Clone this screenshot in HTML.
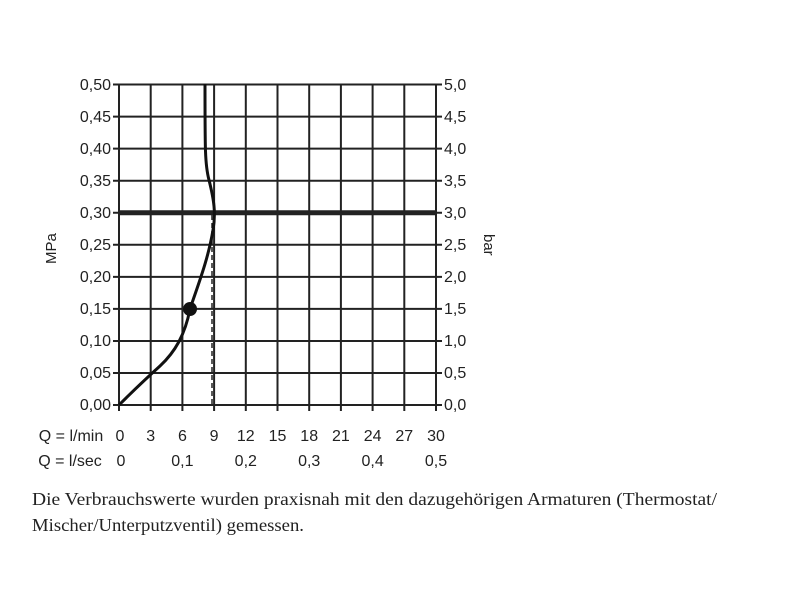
<!DOCTYPE html>
<html><head><style>
body{margin:0;background:#fff;}
svg text{font-family:"Liberation Sans","DejaVu Sans",sans-serif;fill:#222;}
</style></head><body>
<svg width="800" height="600" xmlns="http://www.w3.org/2000/svg">
<g stroke="#222" stroke-width="2" fill="none">
<path d="M119,84.5V405M150.7,84.5V405M182.4,84.5V405M214.1,84.5V405M245.8,84.5V405M277.5,84.5V405M309.2,84.5V405M340.9,84.5V405M372.6,84.5V405M404.3,84.5V405M436,84.5V405"/>
<path d="M119,84.5H436M119,116.6H436M119,148.6H436M119,180.7H436M119,244.8H436M119,276.9H436M119,308.9H436M119,341H436M119,373H436M119,405H436"/>
<path d="M113,84.5H119M113,116.6H119M113,148.6H119M113,180.7H119M113,212.7H119M113,244.8H119M113,276.9H119M113,308.9H119M113,341H119M113,373H119M113,405H119"/>
<path d="M436,84.5H442M436,116.6H442M436,148.6H442M436,180.7H442M436,212.7H442M436,244.8H442M436,276.9H442M436,308.9H442M436,341H442M436,373H442M436,405H442"/>
<path d="M119,405V411M150.7,405V411M182.4,405V411M214.1,405V411M245.8,405V411M277.5,405V411M309.2,405V411M340.9,405V411M372.6,405V411M404.3,405V411M436,405V411"/>
</g>
<line x1="119" y1="212.7" x2="436" y2="212.7" stroke="#222" stroke-width="5"/>
<line x1="212" y1="215" x2="212" y2="405" stroke="#222" stroke-width="1.5" stroke-dasharray="5,3"/>
<path d="M119,405 C135,389 150,375 160,366 C175,352 185,335 190,309 C198,285 208,260 213,230 C216,213 214,200 209,180 C205,165 205,150 205,84" stroke="#111" stroke-width="3" fill="none"/>
<circle cx="190" cy="309" r="7" fill="#111"/>
<g font-size="16" text-anchor="end">
<text x="111" y="90">0,50</text><text x="111" y="122">0,45</text><text x="111" y="154">0,40</text><text x="111" y="186">0,35</text><text x="111" y="218">0,30</text><text x="111" y="250">0,25</text><text x="111" y="282">0,20</text><text x="111" y="314">0,15</text><text x="111" y="346">0,10</text><text x="111" y="378">0,05</text><text x="111" y="410">0,00</text>
</g>
<g font-size="16">
<text x="444" y="90">5,0</text><text x="444" y="122">4,5</text><text x="444" y="154">4,0</text><text x="444" y="186">3,5</text><text x="444" y="218">3,0</text><text x="444" y="250">2,5</text><text x="444" y="282">2,0</text><text x="444" y="314">1,5</text><text x="444" y="346">1,0</text><text x="444" y="378">0,5</text><text x="444" y="410">0,0</text>
</g>
<text font-size="15" transform="translate(56,264) rotate(-90)">MPa</text>
<text font-size="15" transform="translate(484,234) rotate(90)">bar</text>
<g font-size="16" text-anchor="middle">
<text x="71" y="441">Q = l/min</text>
<text x="120" y="441">0</text><text x="150.7" y="441">3</text><text x="182.4" y="441">6</text><text x="214.1" y="441">9</text><text x="245.8" y="441">12</text><text x="277.5" y="441">15</text><text x="309.2" y="441">18</text><text x="340.9" y="441">21</text><text x="372.6" y="441">24</text><text x="404.3" y="441">27</text><text x="436" y="441">30</text>
<text x="70" y="466">Q = l/sec</text>
<text x="121" y="466">0</text><text x="182.4" y="466">0,1</text><text x="245.8" y="466">0,2</text><text x="309.2" y="466">0,3</text><text x="372.6" y="466">0,4</text><text x="436" y="466">0,5</text>
</g>
<text x="32" y="505" font-size="18" textLength="685" lengthAdjust="spacingAndGlyphs" style="font-family:'Liberation Serif',serif">Die Verbrauchswerte wurden praxisnah mit den dazugehörigen Armaturen (Thermostat/</text>
<text x="32" y="531" font-size="18" textLength="272" lengthAdjust="spacingAndGlyphs" style="font-family:'Liberation Serif',serif">Mischer/Unterputzventil) gemessen.</text>
</svg>
</body></html>
